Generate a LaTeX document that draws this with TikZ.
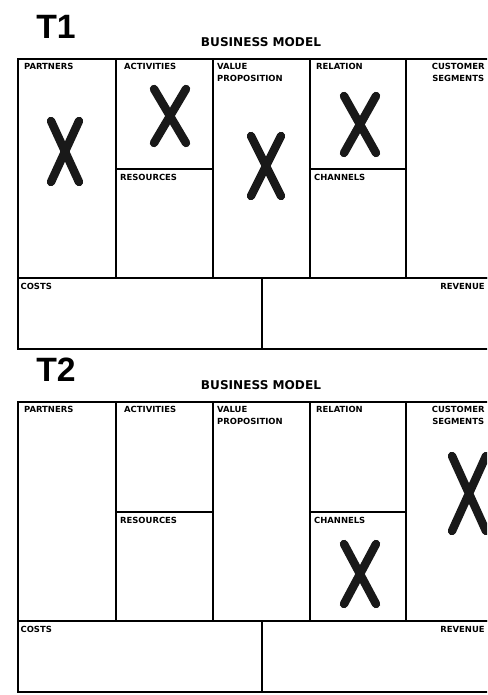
\documentclass[tikz,border=0pt]{standalone}
\usepackage{fontspec}
\setmainfont{Liberation Sans}
\newfontfamily\lblfont{DejaVu Sans}
\begin{document}
\begin{tikzpicture}[
	cell/.style={shape=rectangle, draw, line width=1.3pt, inner sep=0pt},
	lbl/.style={font=\lblfont\bfseries\fontsize{6}{8.6}\selectfont, inner sep=0pt},
	xmark/.style={line width=6pt, line cap=round, color=black!90}
	]
	\useasboundingbox (0,0) rectangle (12.175,17.375);
	\clip (0,0) rectangle (12.175,17.375);
	% Paths, nodes and wires:
	\foreach \p/\t in {1/15.9, 2/7.325} {
		\node[font=\fontsize{24}{24}\selectfont\bfseries] (title\p) at (1.4, \t+0.8) {T\p};
		\node[font=\lblfont\bfseries\fontsize{8.6}{9}\selectfont, inner sep=0pt] (head\p) at (6.525, \t+0.42) {BUSINESS MODEL};
		\node[cell, minimum width=2.45cm, minimum height=5.475cm] (partners\p) at (1.675, \t-2.7375) {};
		\node[cell, minimum width=2.425cm, minimum height=2.76cm] (activities\p) at (4.1125, \t-1.38) {};
		\node[cell, minimum width=2.425cm, minimum height=2.715cm] (resources\p) at (4.1125, \t-4.1175) {};
		\node[cell, minimum width=2.425cm, minimum height=5.475cm] (value\p) at (6.5375, \t-2.7375) {};
		\node[cell, minimum width=2.4cm, minimum height=2.76cm] (relation\p) at (8.95, \t-1.38) {};
		\node[cell, minimum width=2.4cm, minimum height=2.715cm] (channels\p) at (8.95, \t-4.1175) {};
		\node[cell, minimum width=2.45cm, minimum height=5.475cm] (customers\p) at (11.375, \t-2.7375) {};
		\node[cell, minimum width=6.1cm, minimum height=1.775cm] (costs\p) at (3.5, \t-6.3625) {};
		\node[cell, minimum width=6.05cm, minimum height=1.775cm] (revenue\p) at (9.575, \t-6.3625) {};
		\node[lbl, anchor=north west] at ([shift={(0.17,-0.12)}]partners\p.north west) {PARTNERS};
		\node[lbl, anchor=north west] at ([shift={(0.22,-0.12)}]activities\p.north west) {ACTIVITIES};
		\node[lbl, anchor=north west, align=left] at ([shift={(0.12,-0.12)}]value\p.north west) {VALUE\\PROPOSITION};
		\node[lbl, anchor=north west] at ([shift={(0.17,-0.12)}]relation\p.north west) {RELATION};
		\node[lbl, anchor=north, align=center] at ([shift={(0.08,-0.12)}]customers\p.north) {CUSTOMER\\SEGMENTS};
		\node[lbl, anchor=north west] at ([shift={(0.12,-0.14)}]resources\p.north west) {RESOURCES};
		\node[lbl, anchor=north west] at ([shift={(0.12,-0.14)}]channels\p.north west) {CHANNELS};
		\node[lbl, anchor=north west] at ([shift={(0.08,-0.15)}]costs\p.north west) {COSTS};
		\node[lbl, anchor=north east] at ([shift={(-0.5,-0.15)}]revenue\p.north east) {REVENUE};
	}
	% crosses, T1
	\draw[xmark] (1.275,14.35) -- (1.975,12.825) (1.975,14.35) -- (1.275,12.825);
	\draw[xmark] (3.85,15.15) -- (4.65,13.8) (4.65,15.15) -- (3.85,13.8);
	\draw[xmark] (6.275,13.975) -- (7.025,12.475) (7.025,13.975) -- (6.275,12.475);
	\draw[xmark] (8.6,14.975) -- (9.4,13.55) (9.4,14.975) -- (8.6,13.55);
	% crosses, T2
	\draw[xmark] (11.3,5.975) -- (12.15,4.1) (12.15,5.975) -- (11.3,4.1);
	\draw[xmark] (8.6,3.775) -- (9.4,2.275) (9.4,3.775) -- (8.6,2.275);
\end{tikzpicture}
\end{document}
